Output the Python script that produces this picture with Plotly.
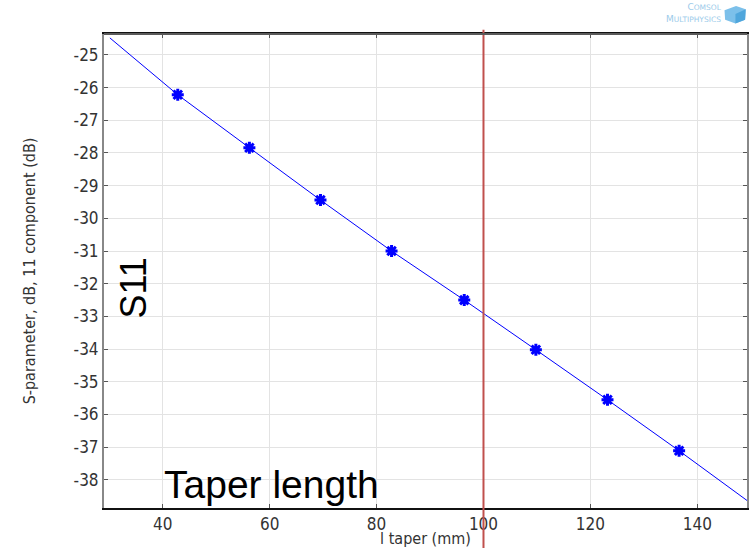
import plotly.graph_objects as go

# data
l_taper_markers = [42.8, 56.2, 69.5, 82.8, 96.4, 109.8, 123.2, 136.6]
s11_markers = [-26.22, -27.84, -29.44, -31.0, -32.5, -34.02, -35.55, -37.11]
l_taper_line = [30.1, 42.8, 56.2, 69.5, 82.8, 96.4, 109.8, 123.2, 136.6, 149.3]
s11_line = [-24.48, -26.22, -27.84, -29.44, -31.0, -32.5, -34.02, -35.55, -37.11, -38.63]
x_ticks = [40, 60, 80, 100, 120, 140]
y_ticks = [-25, -26, -27, -28, -29, -30, -31, -32, -33, -34, -35, -36, -37, -38]
marked_length = 100

fig = go.Figure()
fig.add_trace(go.Scatter(x=l_taper_line, y=s11_line, mode="lines",
                         line=dict(color="#0000ff", width=1), showlegend=False))
fig.add_trace(go.Scatter(x=l_taper_markers, y=s11_markers, mode="markers",
                         marker=dict(symbol="asterisk-open", size=10, color="#0000ff",
                                     line=dict(color="#0000ff", width=3)),
                         showlegend=False))

fig.add_shape(type="line", xref="x", yref="paper", x0=marked_length, x1=marked_length,
              y0=-0.09, y1=1.009, line=dict(color="#c0504d", width=2))

# top frame line (dark grey)
fig.add_shape(type="line", xref="paper", yref="paper", x0=0, x1=1, y0=1, y1=1,
              line=dict(color="#5a5a5a", width=2))

font_fam = "DejaVu Sans Condensed, DejaVu Sans"
fig.update_layout(
    width=749, height=548,
    margin=dict(l=104, r=0, t=34, b=40),
    paper_bgcolor="white", plot_bgcolor="white",
    font=dict(family=font_fam, color="#333333"),
    xaxis=dict(range=[29, 149.3], tickvals=x_ticks, ticktext=[str(v) for v in x_ticks],
               showgrid=True, gridcolor="#e3e3e3", gridwidth=1,
               showline=True, linecolor="#111111", linewidth=2, mirror="ticks",
               ticks="inside", ticklen=4, tickcolor="#555555",
               tickfont=dict(size=17, color="#333333"),
               title=dict(text="l taper (mm)", font=dict(size=16, color="#333333"), standoff=0),
               zeroline=False),
    yaxis=dict(range=[-38.86, -24.36], tickvals=y_ticks,
               ticktext=["-" + str(abs(v)) for v in y_ticks],
               showgrid=True, gridcolor="#e3e3e3", gridwidth=1,
               showline=True, linecolor="#888888", linewidth=2, mirror="ticks",
               ticks="inside", ticklen=4, tickcolor="#555555",
               tickfont=dict(size=17, color="#333333"),
               title=dict(text="S-parameter, dB, 11 component (dB)",
                          font=dict(size=16, color="#333333"), standoff=34),
               zeroline=False),
)

fig.add_annotation(text="S11", xref="paper", yref="paper", x=0.0465, y=0.465,
                   xanchor="center", yanchor="middle",
                   showarrow=False, textangle=-90,
                   font=dict(family="Liberation Sans", size=36, color="black"))
fig.add_annotation(text="Taper length", xref="x", yref="paper", x=39.8, y=0.001,
                   xanchor="left", yanchor="bottom", showarrow=False,
                   font=dict(family="Liberation Sans", size=39, color="black"))
fig.add_annotation(text="C<span style='font-size:7.5px'>OMSOL</span><br>"
                        "M<span style='font-size:7.5px'>ULTIPHYSICS</span>",
                   xref="paper", yref="paper", x=0.962, y=1.02, xanchor="right", yanchor="bottom",
                   align="right", borderpad=0,
                   showarrow=False, font=dict(family="DejaVu Sans", size=9, color="#9ccbea"))
fig.add_shape(type="path", xref="paper", yref="paper",
              path="M 0.965 1.05 L 0.983 1.059 L 0.998 1.052 L 0.997 1.03 L 0.982 1.022 L 0.966 1.03 Z",
              fillcolor="#7cc0ea", line=dict(width=0))
fig.add_shape(type="path", xref="paper", yref="paper",
              path="M 0.982 1.042 L 0.998 1.052 L 0.997 1.03 L 0.982 1.022 Z",
              fillcolor="#4fa6dc", line=dict(width=0))

fig.write_html("out.html", config={"displayModeBar": False},
               post_script="document.body.style.margin='0';")
